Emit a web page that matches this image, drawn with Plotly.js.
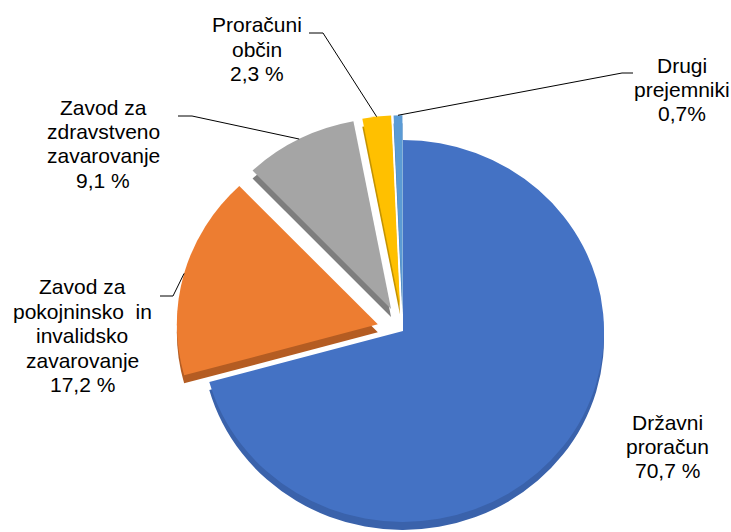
<!DOCTYPE html>
<html><head><meta charset="utf-8">
<script src="https://cdn.plot.ly/plotly-3.0.1.min.js"></script>
<style>
html,body{margin:0;padding:0;overflow:hidden;background:#fff}
#wrap{position:relative;width:731px;height:532px;overflow:hidden}
#pie,#labels{position:absolute;left:0;top:0;width:731px;height:600px}
</style>
</head><body><div id="wrap"><div id="pie"></div><div id="labels"></div></div>
<script>
// ---- data ----
const categories = ["Državni proračun", "Zavod za pokojninsko in invalidsko zavarovanje", "Zavod za zdravstveno zavarovanje", "Proračuni občin", "Drugi prejemniki"];
const shares = [70.7, 17.2, 9.1, 2.3, 0.7];
const shareLabels = ["70,7 %", "17,2 %", "9,1 %", "2,3 %", "0,7%"];
const labelLines = [["Državni", "proračun"], ["Zavod za", "pokojninsko\u00a0 in", "invalidsko", "zavarovanje"], ["Zavod za", "zdravstveno", "zavarovanje"], ["Proračuni", "občin"], ["Drugi", "prejemniki"]];

// ---- styling / layout ----
const pulls = [0, 0.13, 0.13, 0.13, 0.13];
const faceColors = ["#4472C4", "#ED7D31", "#A5A5A5", "#FFC000", "#5B9BD5"];
const sideColors = ["#3A62AB", "#B45C22", "#7E7E7E", "#C49300", "#477DB2"];
const W = 731, H = 600, CX = 403, CY = 331, R = 201, SY = 0.95, DEPTH = 8, LINE_H = 24.4;
const labelPos = [[667, 422], [82, 287], [103, 107], [257, 25], [682, 65]];
const elbows = [null, [[160, 296], [173, 296]], [[178, 116], [192, 116]], [[309, 33], [323, 33]], [[633, 73], [622, 73]]];

// tilt the pie (3-D look): squeeze vertically around its centre
const pieDiv = document.getElementById('pie');
pieDiv.style.transformOrigin = `0px ${CY}px`;
pieDiv.style.transform = `scaleY(${SY})`;

const maxPull = Math.max(...pulls);
const half = R * (1 + maxPull);
function dom(dy) {
  return {x: [(CX - half) / W, (CX + half) / W], y: [1 - (CY + dy + half) / H, 1 - (CY + dy - half) / H]};
}
const px = x => x / W, py = y => 1 - y / H;

function pieTrace(colors, dy) {
  return {
    type: 'pie', labels: categories, values: shares, sort: false, direction: 'clockwise', rotation: 0,
    pull: pulls, textinfo: 'none', hoverinfo: 'skip', showlegend: false,
    marker: {colors: colors, line: {width: 0}}, domain: dom(dy)
  };
}

Plotly.newPlot('pie', [pieTrace(sideColors, DEPTH / SY), pieTrace(faceColors, 0)], {
  width: W, height: H, margin: {l: 0, r: 0, t: 0, b: 0},
  paper_bgcolor: '#fff', plot_bgcolor: '#fff'
}, {staticPlot: true});

// annotations (one per text line)
const annotations = [];
labelLines.forEach((lines, i) => {
  const all = lines.concat([shareLabels[i]]);
  all.forEach((t, k) => {
    annotations.push({
      xref: 'paper', yref: 'paper', x: px(labelPos[i][0]), y: py(labelPos[i][1] + k * LINE_H),
      text: t, showarrow: false, xanchor: 'center', yanchor: 'middle',
      font: {family: 'Liberation Sans, Arial, sans-serif', size: 21, color: '#000'}
    });
  });
});

// leader lines ending on the arc at each slice's mid angle
const total = shares.reduce((a, b) => a + b, 0);
const shapes = [];
let cum = 0;
shares.forEach((v, i) => {
  const mid = (cum + v / 2) / total * 2 * Math.PI;
  cum += v;
  if (!elbows[i]) return;
  const rr = R * (1 + pulls[i]);
  const ex = CX + rr * Math.sin(mid), ey = CY - rr * Math.cos(mid) * SY;
  const [a, b] = elbows[i];
  shapes.push({
    type: 'path', xref: 'paper', yref: 'paper',
    path: `M ${px(a[0])},${py(a[1])} L ${px(b[0])},${py(b[1])} L ${px(ex)},${py(ey)}`,
    line: {color: '#000', width: 1}
  });
});

Plotly.newPlot('labels', [], {
  width: W, height: H, margin: {l: 0, r: 0, t: 0, b: 0},
  paper_bgcolor: 'rgba(0,0,0,0)', plot_bgcolor: 'rgba(0,0,0,0)',
  xaxis: {visible: false}, yaxis: {visible: false},
  annotations: annotations, shapes: shapes
}, {staticPlot: true});
</script>
</body></html>
